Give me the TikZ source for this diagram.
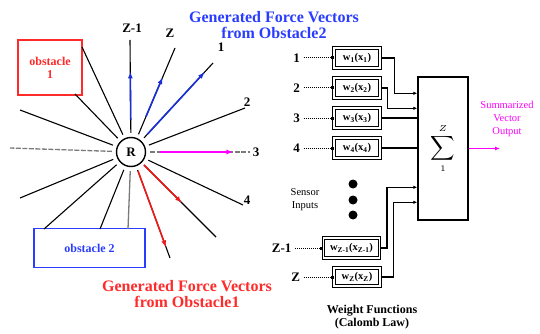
\documentclass[tikz,border=0pt]{standalone}
\usepackage{fontspec}
\setmainfont{Liberation Serif}[BoldFont={Liberation Serif Bold}]
\definecolor{ObsRed}{HTML}{FF2A2A}
\definecolor{ObsBlue}{HTML}{2A3CFF}
\definecolor{VecBlue}{HTML}{1A2FD8}
\definecolor{VecRed}{HTML}{F01818}
\definecolor{VecMagenta}{HTML}{FF00FF}
\definecolor{RayGray}{HTML}{7A7A7A}
\usetikzlibrary{arrows.meta,positioning,calc}
\tikzset{
  ray/.style={line width=1.1pt, black, shorten <=4pt},
  grayray/.style={line width=1.3pt, RayGray, shorten <=4pt},
  vec/.style={-{Latex[length=7pt,width=5pt]}, line width=1.6pt},
  obst/.style={draw, line width=1.1pt, align=center, font=\fontsize{12}{13}\selectfont\bfseries},
  wbox/.style={draw, double, line width=1pt, double distance=1.3pt, minimum width=46pt, minimum height=20pt, inner sep=1pt, font=\fontsize{10.5}{11}\selectfont\bfseries},
  feed/.style={densely dotted, line width=1pt, -{Square[length=3pt,width=3pt]}},
  wire/.style={line width=1.4pt},
  wirein/.style={wire, -{Latex[length=4pt,width=3.5pt]}},
  tag/.style={font=\fontsize{13}{14}\selectfont\bfseries},
  note/.style={font=\fontsize{10.5}{13}\selectfont, align=center},
  title/.style={font=\fontsize{16}{16.5}\selectfont\bfseries, align=center}
}
\begin{document}
\begin{tikzpicture}[x=1pt,y=-1pt]
  \useasboundingbox (0,0) rectangle (540,334);

  % robot and its sensor rays
  \node[circle, draw, line width=1.4pt, minimum size=29pt, inner sep=0pt, font=\fontsize{13}{14}\selectfont\bfseries] (R) at (131,152) {R};
  \node[obst, ObsRed, minimum width=64pt, minimum height=55pt] (obs1) at (50,67.5) {obstacle\\1};
  \node[obst, ObsBlue, minimum width=111pt, minimum height=39pt] (obs2) at (89.5,248) {obstacle 2};

  \foreach \n/\x/\y in {zm1/130/40, z/175/48, one/213/63, two/245/108, four/243/205, se/216/237,
                        sse/170/258, sw/100/229, ssw/44/229, w/20/198, nw/20/110, o1/82/47, o2/75/94}{
    \coordinate (\n) at (\x,\y);
    \draw[ray] (R) -- (\n);
  }
  \coordinate (three) at (250,152);
  \coordinate (down) at (128,229);
  \coordinate (west) at (10,148);
  \draw[grayray] (R) -- (down);
  \draw[grayray, dash pattern=on 5pt off 1.5pt] (R) -- (three);
  \draw[grayray, dash pattern=on 5pt off 1.5pt] (R) -- (west);

  \node[tag] (lzm1) at (132,28) {Z-1};
  \node[tag] (lz) at (170,33) {Z};
  \node[tag] (lone) at (221,47) {1};
  \node[tag] (ltwo) at (247,102) {2};
  \node[tag] (lthree) at (256,152) {3};
  \node[tag] (lfour) at (247,200) {4};

  % force vectors
  \draw[vec, VecBlue] ($(R)!0.29!(zm1)$) -- ($(R)!0.72!(zm1)$);
  \draw[vec, VecBlue] ($(R)!0.34!(z)$) -- ($(R)!0.72!(z)$);
  \draw[vec, VecBlue] ($(R)!0.2!(one)$) -- ($(R)!0.9!(one)$);
  \draw[vec, VecMagenta] ($(R)!0.24!(three)$) -- ($(R)!0.86!(three)$);
  \draw[vec, VecRed] ($(R)!0.18!(sse)$) -- ($(R)!0.9!(sse)$);
  \draw[vec, VecRed] ($(R)!0.15!(se)$) -- ($(R)!0.6!(se)$);

  \node[title, ObsBlue] (gen2) at (274,25) {Generated Force Vectors\\from Obstacle2};
  \node[title, ObsRed] (gen1) at (187,294) {Generated Force Vectors\\from Obstacle1};

  % weight functions
  \node[wbox] (wa) at (357,58) {w\textsubscript{1}(x\textsubscript{1})};
  \node[wbox, below=9pt of wa] (wb) {w\textsubscript{2}(x\textsubscript{2})};
  \node[wbox, below=9pt of wb] (wc) {w\textsubscript{3}(x\textsubscript{3})};
  \node[wbox, below=9pt of wc] (wd) {w\textsubscript{4}(x\textsubscript{4})};
  \node[wbox, minimum width=56pt] (wy) at (351.5,248) {w\textsubscript{Z-1}(x\textsubscript{Z-1})};
  \node[wbox, minimum height=18pt] (wz) at (357,277) {w\textsubscript{Z}(x\textsubscript{Z})};

  \node[tag, left=30pt of wa] (ia) {1};
  \node[tag, left=30pt of wb] (ib) {2};
  \node[tag, left=30pt of wc] (ic) {3};
  \node[tag, left=30pt of wd] (id) {4};
  \node[tag, left=28pt of wy] (iy) {Z-1};
  \node[tag, left=30pt of wz] (iz) {Z};
  \foreach \s in {a,b,c,d,y,z}
    \draw[feed] (i\s) -- (w\s);

  \foreach \i/\y in {1/184,2/200,3/215}
    \node[circle, fill, inner sep=0pt, minimum size=9pt] (dot\i) at (353,\y) {};
  \node[note] (sens) at (305,200) {Sensor\\Inputs};

  % summation
  \node[draw, line width=1.4pt, minimum width=50pt, minimum height=143pt] (sum) at (443,148.5) {};
  \node[scale=1.7, inner sep=0pt] (sig) at (sum.center) {$\displaystyle\sum_{\scriptscriptstyle 1}^{\scriptscriptstyle Z}$};

  \draw[wirein] (wa.east) -- ++(14,0) |- ($(sum.north west)+(0,17)$);
  \draw[wirein] (wb.east) -- ++(7,0) |- ($(sum.north west)+(0,32)$);
  \draw[wire] (wc.east) -- (wc.east -| sum.west);
  \draw[wire] (wd.east) -- (wd.east -| sum.west);
  \draw[wirein] (wy.east) -- ++(7,0) |- ($(sum.north west)+(0,111)$);
  \draw[wirein] (wz.east) -- ++(13,0) |- ($(sum.north west)+(0,126)$);

  \coordinate (out) at (500,148.5);
  \draw[-{Latex[length=5pt,width=4pt]}, VecMagenta, line width=1.2pt] (sum.east) -- (out);
  \node[note, VecMagenta] (outtxt) at (507,119) {Summarized\\Vector\\Output};

  \node[font=\fontsize{12}{12.5}\selectfont\bfseries, align=center] (wlaw) at (372,317) {Weight Functions\\(Calomb Law)};
\end{tikzpicture}
\end{document}
